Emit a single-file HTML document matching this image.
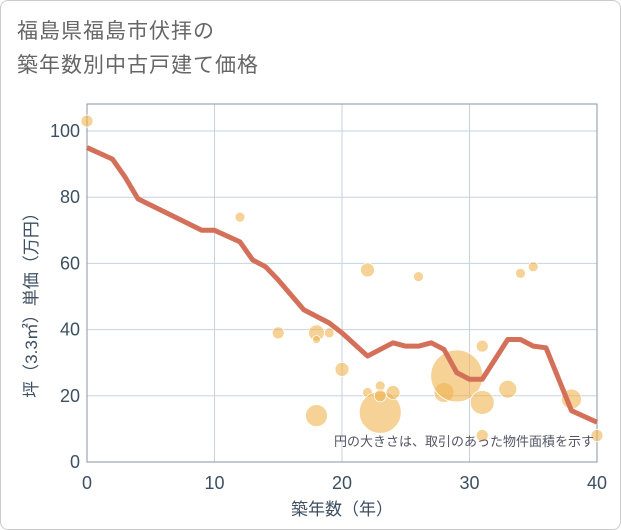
<!DOCTYPE html>
<html><head><meta charset="utf-8"><style>
body{margin:0;background:#fff;}
#wrap{position:relative;width:619px;height:528px;border:1px solid #ccc;border-radius:8px;overflow:hidden;font-family:"Liberation Sans","Noto Sans CJK JP",sans-serif;background:#fff}
#title{position:absolute;left:16px;top:14px;font-size:21px;line-height:34px;color:#666;letter-spacing:1px}
svg{position:absolute;left:0;top:0}
</style></head><body>
<div id="wrap">
<div id="title">福島県福島市伏拝の<br>築年数別中古戸建て価格</div>
<svg id="chart" width="621" height="530"></svg>
</div>
<script>
const lineYears=[0,2,3,4,9,10,12,13,14,15,17,18,19,20,22,23,24,25,26,27,28,29,30,31,33,34,35,36,38,40];
const lineValues=[95,91.5,86,79.5,70,70,66.5,61,59,55,46,44,42,39,32,34,36,35,35,36,34,27,25,25,37,37,35,34.5,15.5,12];
const bubbleYears=[0,12,15,18,18,19,18,20,22,22,23,23,23,24,26,28,29,31,31,31,33,34,35,38,40];
const bubbleValues=[103,74,39,39,37,39,14,28,58,21,23,15,20,21,56,21,26,35,18,8,22,57,59,19,8];
const bubbleSizes=[6,5,6,8,4,5,11,7,7,5,5,21,6,7,5,10,26,6,12,6,9,5,5,10,6];
const xTicks=[0,10,20,30,40];
const yTicks=[0,20,40,60,80,100];
const NS="http://www.w3.org/2000/svg";
const svg=document.getElementById('chart');
const L=86,R=596,T=103,B=461;
const X=v=>L+(v-0)/40*(R-L);
const Y=v=>461-v*3.31;
function mk(tag,attrs){const e=document.createElementNS(NS,tag);for(const k in attrs)e.setAttribute(k,attrs[k]);svg.appendChild(e);return e;}
let e;
e=mk('rect',{x:L,y:T,width:R-L,height:B-T,fill:'#fff'});


xTicks.forEach(t=>{
 e=mk('line',{x1:X(t),x2:X(t),y1:T,y2:B,stroke:'#c5d2e0','stroke-width':1});
 
 
 e=mk('text',{x:X(t),y:488,'text-anchor':'middle','font-size':18,fill:'#3d4f63'});e.textContent=t;
 
 
});
yTicks.forEach(t=>{
 e=mk('line',{x1:L,x2:R,y1:Y(t),y2:Y(t),stroke:'#c5d2e0','stroke-width':1});
 
 
 e=mk('text',{x:79,y:Y(t)+6,'text-anchor':'end','font-size':18,fill:'#3d4f63'});e.textContent=t;
 
 
});
e=mk('rect',{x:L,y:T,width:R-L,height:B-T,fill:'none',stroke:'#8a96a3','stroke-width':1});


bubbleYears.forEach((yr,i)=>{
 e=mk('circle',{cx:X(yr),cy:Y(bubbleValues[i]),r:bubbleSizes[i],fill:'rgba(240,180,80,0.6)',stroke:'#fff','stroke-width':0.8});
 
 
});
e=mk('polyline',{points:lineYears.map((y,i)=>X(y)+','+Y(lineValues[i])).join(' '),fill:'none',stroke:'#d4705a','stroke-width':5,'stroke-linejoin':'round'});


e=mk('text',{x:593,y:445,'text-anchor':'end','font-size':13,fill:'#556'});e.textContent='円の大きさは、取引のあった物件面積を示す';


e=mk('text',{x:341,y:514,'text-anchor':'middle','font-size':17,fill:'#3d4f63'});e.textContent='築年数（年）';


e=mk('text',{x:0,y:0,'text-anchor':'middle','font-size':17,fill:'#3d4f63',transform:'translate(36,300) rotate(-90)'});e.textContent='坪（3.3㎡）単価（万円）';


</script>
</body></html>
